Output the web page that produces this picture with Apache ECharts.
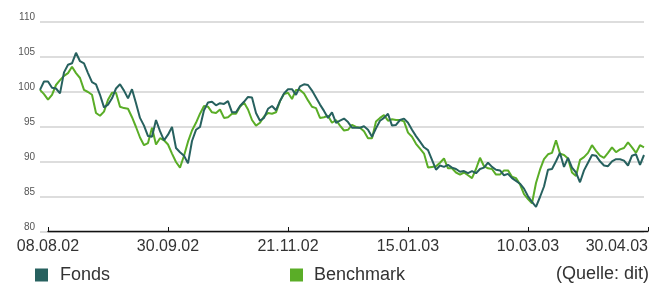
<!DOCTYPE html>
<html>
<head>
<meta charset="utf-8">
<script src="https://cdn.jsdelivr.net/npm/echarts@6/dist/echarts.min.js"></script>
<style>
  html, body { margin: 0; padding: 0; background: #fff; }
  #main { width: 669px; height: 286px; }
</style>
</head>
<body>
<div id="main"></div>
<script>
// tick labels on the date axis, one every 30 points
var tickLabels = ['08.08.02', '30.09.02', '21.11.02', '15.01.03', '10.03.03', '30.04.03'];

// indexed values (base 100)
var fonds = [
    100.3, 101.5, 101.5, 100.6, 100.5, 99.8, 102.8, 103.9, 104.1, 105.6,
    104.4, 104.1, 102.7, 101.4, 101.1, 99.6, 97.8, 98.2, 99.1, 100.5,
    101.1, 100.2, 99.1, 100.4, 98.4, 96.3, 95.2, 93.7, 93.6, 96.0,
    94.4, 93.1, 93.9, 95.0, 92.0, 91.4, 90.9, 89.8, 93.0, 94.6,
    95.0, 97.4, 98.5, 98.6, 98.1, 98.4, 98.3, 98.7, 97.1, 97.1,
    98.0, 98.6, 99.3, 99.2, 97.0, 95.9, 96.3, 97.6, 98.0, 97.4,
    98.7, 99.8, 100.4, 100.4, 99.6, 100.8, 101.1, 101.0, 100.2, 99.2,
    98.2, 97.3, 96.3, 97.1, 95.6, 95.9, 96.2, 95.7, 94.9, 94.9,
    94.9, 95.1, 94.6, 93.6, 94.8, 95.9, 96.3, 96.9, 95.2, 95.3,
    96.0, 96.2, 95.6, 94.6, 93.7, 92.9, 92.1, 91.7, 90.3, 88.9,
    89.5, 89.3, 89.6, 89.2, 89.0, 88.6, 88.7, 88.4, 88.7, 88.4,
    89.0, 89.2, 89.9, 89.3, 88.9, 88.8, 88.1, 88.3, 87.7, 87.3,
    86.9, 86.2, 85.1, 84.3, 83.6, 85.0, 86.5, 88.9, 89.0, 90.1,
    91.3, 89.3, 90.6, 89.2, 88.5, 87.1, 88.8, 89.9, 91.0, 90.9,
    90.1, 89.5, 89.4, 90.1, 90.4, 90.4, 90.2, 89.5, 90.9, 91.1,
    89.6, 91.0
];

var benchmark = [
    100.3, 99.7, 98.9, 99.6, 101.0, 101.7, 102.3, 102.7, 103.6, 102.7,
    102.0, 100.3, 100.0, 99.6, 97.0, 96.6, 97.2, 98.9, 99.9, 99.9,
    97.9, 97.7, 97.6, 96.4, 95.0, 93.5, 92.4, 92.7, 94.9, 92.5,
    93.4, 93.1, 92.5, 91.2, 90.0, 89.2, 90.9, 92.9, 94.5, 95.6,
    96.9, 98.0, 97.9, 97.1, 97.0, 97.5, 96.3, 96.4, 96.9, 96.9,
    97.9, 98.5, 97.5, 96.0, 95.2, 95.6, 96.5, 97.0, 96.9, 97.1,
    98.7, 99.7, 99.9, 99.0, 100.3, 100.3, 99.8, 98.8, 97.9, 97.7,
    96.3, 96.4, 96.6, 95.6, 96.0, 95.2, 94.5, 94.6, 95.3, 95.0,
    94.9, 94.4, 93.4, 93.4, 95.8, 96.3, 96.7, 95.9, 96.1, 96.0,
    96.0, 95.8, 94.2, 93.6, 92.6, 91.9, 91.2, 89.2, 89.3, 89.4,
    89.9, 90.5, 89.1, 89.1, 88.5, 88.2, 88.5, 88.1, 87.7, 89.0,
    90.6, 89.4, 89.1, 89.0, 88.2, 88.2, 88.8, 88.8, 87.9, 87.7,
    86.8, 85.4, 84.7, 84.1, 87.0, 88.9, 90.4, 91.1, 91.3, 93.1,
    91.2, 91.0, 90.5, 88.5, 88.0, 90.3, 90.7, 91.3, 92.4, 91.6,
    90.9, 90.6, 91.3, 92.1, 91.4, 91.8, 92.0, 92.8, 92.1, 91.3,
    92.4, 92.1
];

var fondsColor = '#27615f';
var benchColor = '#5aad27';
var textFont = '"Liberation Sans", Arial, sans-serif';

function toPairs(arr) {
    return arr.map(function (v, i) { return [i, v]; });
}

var myChart = echarts.init(document.getElementById('main'));

var option = {
    animation: false,
    textStyle: { fontFamily: textFont },
    grid: [
        { left: 40, right: 25, top: 22, bottom: 54 },
        { left: 48, right: 21, top: 22, bottom: 55 }
    ],
    xAxis: [
        {
            gridIndex: 0,
            type: 'value',
            min: 0,
            max: fonds.length - 1,
            show: false
        },
        {
            gridIndex: 1,
            type: 'value',
            min: 0,
            max: 150,
            interval: 30,
            axisLine: { show: true, lineStyle: { color: '#111', width: 1.3 } },
            axisTick: { show: true, inside: true, length: 4, lineStyle: { color: '#111' } },
            splitLine: { show: false },
            axisLabel: {
                fontSize: 16,
                color: '#333',
                margin: 8,
                alignMaxLabel: 'right',
                formatter: function (v) {
                    return tickLabels[Math.round(v / 30)];
                }
            }
        }
    ],
    yAxis: [
        {
            gridIndex: 0,
            type: 'value',
            min: 80,
            max: 110,
            interval: 5,
            axisLine: { show: false },
            axisTick: { show: false },
            splitLine: { lineStyle: { color: '#d2d2d2', width: 1.5 } },
            axisLabel: {
                fontSize: 10,
                color: '#555',
                margin: 5,
                verticalAlign: 'bottom'
            }
        },
        { gridIndex: 1, type: 'value', show: false }
    ],
    legend: [
        {
            left: 35, top: 266, padding: 0,
            itemWidth: 13, itemHeight: 13, icon: 'rect',
            data: [{ name: 'Fonds', itemStyle: { color: fondsColor } }],
            textStyle: { fontSize: 18, color: '#333', padding: [0, 0, 0, 7] }
        },
        {
            left: 290, top: 266, padding: 0,
            itemWidth: 13, itemHeight: 13, icon: 'rect',
            data: [{ name: 'Benchmark', itemStyle: { color: benchColor } }],
            textStyle: { fontSize: 18, color: '#333', padding: [0, 0, 0, 6] }
        }
    ],
    graphic: [{
        type: 'text',
        right: 20,
        top: 265,
        style: { text: '(Quelle: dit)', fontSize: 18, fill: '#333', fontFamily: textFont }
    }],
    series: [
        {
            name: 'Benchmark',
            type: 'line',
            xAxisIndex: 0, yAxisIndex: 0,
            data: toPairs(benchmark),
            showSymbol: false,
            lineStyle: { color: benchColor, width: 2 },
            itemStyle: { color: benchColor }
        },
        {
            name: 'Fonds',
            type: 'line',
            xAxisIndex: 0, yAxisIndex: 0,
            data: toPairs(fonds),
            showSymbol: false,
            lineStyle: { color: fondsColor, width: 2 },
            itemStyle: { color: fondsColor }
        }
    ]
};

myChart.setOption(option);
</script>
</body>
</html>
